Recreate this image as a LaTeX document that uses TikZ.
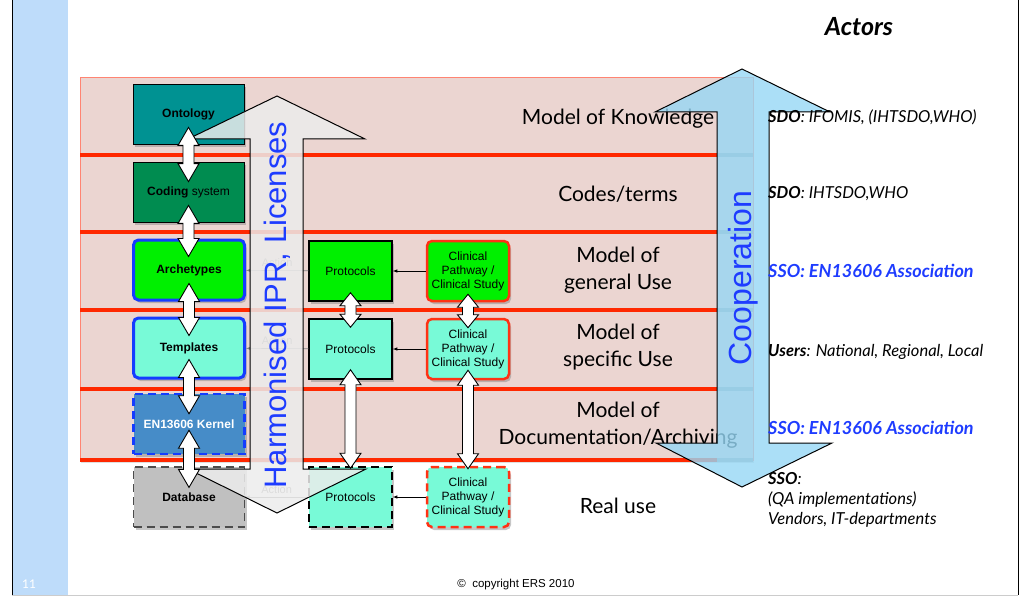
\documentclass[tikz,border=0pt]{standalone}
\usepackage{fontspec}
\setmainfont{Liberation Sans}
\newfontfamily\gillfont{Lato}
\usetikzlibrary{shapes,arrows,positioning,calc,shadows}

\newcommand{\fatlink}[3][18pt]{%
  \draw[fatarr] let \p1=(#2), \p2=(#3) in
    (\x1,\y1) -- (\x1+10.5pt,\y1-#1) -- (\x1+5.5pt,\y1-#1) -- (\x1+5.5pt,\y2+#1)
    -- (\x1+10.5pt,\y2+#1) -- (\x1,\y2) -- (\x1-10.5pt,\y2+#1) -- (\x1-5.5pt,\y2+#1)
    -- (\x1-5.5pt,\y1-#1) -- (\x1-10.5pt,\y1-#1) -- cycle;}

\begin{document}
\begin{tikzpicture}[x=1pt,y=-1pt,
    box/.style={rectangle, minimum width=111pt, minimum height=60pt, inner sep=0pt, align=center,
        font=\fontsize{12}{14}\selectfont,
        drop shadow={opacity=0.45, shadow xshift=2pt, shadow yshift=-3pt}},
    pbox/.style={box, minimum width=83pt},
    cpbox/.style={box, minimum width=82pt, draw=cpred, line width=2.5pt, rounded corners=5pt},
    longdash/.style={dash pattern=on 8pt off 5pt},
    fatarr/.style={draw=black, fill=white, line width=0.9pt, line join=miter},
    thinarr/.style={-latex, black, line width=0.6pt},
    ghostarr/.style={-latex, gray, line width=0.6pt},
    rowlab/.style={font=\gillfont\fontsize{21}{27}\selectfont, align=center},
    actor/.style={anchor=west, inner sep=0pt, align=left, font=\gillfont\itshape\fontsize{16.5}{20}\selectfont},
    ssoactor/.style={actor, text=textblue, font=\gillfont\bfseries\itshape\fontsize{18}{20}\selectfont}]

    % Definizione colori
    \definecolor{stripblue}{RGB}{190,220,250}
    \definecolor{bandpink}{RGB}{235,213,209}
    \definecolor{bandline}{RGB}{255,40,0}
    \definecolor{ontoteal}{RGB}{0,146,146}
    \definecolor{codegreen}{RGB}{0,140,80}
    \definecolor{brightgreen}{RGB}{0,240,0}
    \definecolor{aqua}{RGB}{120,250,215}
    \definecolor{kernblue}{RGB}{70,140,200}
    \definecolor{dbgray}{RGB}{192,192,192}
    \definecolor{archblue}{RGB}{20,60,255}
    \definecolor{cpred}{RGB}{255,50,20}
    \definecolor{textblue}{RGB}{30,60,255}
    \definecolor{coopblue}{RGB}{150,215,245}

    \useasboundingbox (0,0) rectangle (1024,596);

    % Cornice della slide
    \fill[stripblue] (12,0) rectangle (68,596);
    \draw[black, line width=1pt] (12,0) -- (12,596);
    \draw[black, line width=0.6pt] (1018,0) -- (1018,595);
    \draw[gray!40, line width=0.8pt] (12,595) -- (1018,595);

    % Fascia dei livelli
    \fill[bandpink, draw=cpred!60, line width=0.8pt, drop shadow={opacity=0.25, shadow xshift=1pt, shadow yshift=-3pt}]
        (80,77) rectangle (753,460);
    \foreach \y in {155,232,310,389,460} {
        \draw[bandline, line width=3.2pt] (80,\y) -- (717,\y);
        \draw[gray!70, line width=3.2pt] (717,\y) -- (753,\y);
    }

    % Colonna dei modelli
    \node[box, fill=ontoteal, draw=black, line width=0.8pt] (ont) at (188.5,114) {\textbf{Ontology}};
    \node[box, fill=codegreen, draw=black, line width=0.8pt] (cod) at (188.5,192) {\textbf{Coding} system};
    \node[box, fill=brightgreen, draw=archblue, line width=3pt, rounded corners=5pt] (arch) at (189,270) {\textbf{Archetypes}};
    \node[box, fill=aqua, draw=archblue, line width=3pt, rounded corners=5pt] (tmpl) at (189,348) {\textbf{Templates}};
    \node[box, fill=kernblue, draw=archblue, line width=2.5pt, longdash, text=white] (kern) at (189,424) {\textbf{EN13606 Kernel}};
    \node[box, fill=dbgray, draw=black!70, line width=1.2pt, longdash] (db) at (189,497) {\textbf{Database}};

    % Protocolli
    \node[pbox, fill=brightgreen, draw=black, line width=1.5pt] (p1) at (350.5,271) {Protocols};
    \node[pbox, fill=aqua, draw=black, line width=1.5pt] (p2) at (350.5,349) {Protocols};
    \node[pbox, fill=aqua, draw=black, line width=1.5pt, longdash] (p3) at (350.5,497) {Protocols};

    % Percorsi clinici
    \node[cpbox, fill=brightgreen] (cp1) at (468,271) {Clinical\\Pathway /\\Clinical Study};
    \node[cpbox, fill=aqua] (cp2) at (468,349) {Clinical\\Pathway /\\Clinical Study};
    \node[cpbox, fill=aqua, longdash] (cp3) at (468,497) {Clinical\\Pathway /\\Clinical Study};

    % Frecce sottili
    \draw[thinarr] (cp1) -- (p1);
    \draw[thinarr] (cp2) -- (p2);
    \draw[thinarr] (cp3) -- (p3);
    \draw[ghostarr] (p1) -- node[above, font=\fontsize{11}{13}\selectfont, text=gray] {Action} (arch);
    \draw[ghostarr] (p2) -- node[above, font=\fontsize{11}{13}\selectfont, text=gray] {Action} (tmpl);
    \draw[ghostarr] (p3) -- node[above, font=\fontsize{11}{13}\selectfont, text=gray] {Action} (db);

    % Freccia IPR
    \draw[black, line width=1pt, fill=gray!15, fill opacity=0.85, line join=miter]
        (277,96) -- (365,139) -- (303,139) -- (303,469) -- (366,469) -- (277,513)
        -- (188,469) -- (250,469) -- (250,139) -- (188,139) -- cycle;
    \node[rotate=90, text=textblue, font=\fontsize{31}{31}\selectfont] (ipr) at (277,305) {Harmonised IPR, Licenses};

    % Frecce doppie
    \fatlink{[yshift=17pt]ont.south}{[yshift=-20pt]cod.north}
    \fatlink{[yshift=17pt]cod.south}{[yshift=-18pt]arch.north}
    \fatlink{[yshift=18pt]arch.south}{[yshift=-19pt]tmpl.north}
    \fatlink{[yshift=20pt]tmpl.south}{[yshift=-21pt]kern.north}
    \fatlink{[yshift=25pt]kern.south}{[yshift=-21pt]db.north}
    \fatlink[13pt]{[yshift=9pt]p1.south}{[yshift=-9pt]p2.north}
    \fatlink[15pt]{[yshift=10pt]p2.south}{[yshift=-2pt]p3.north}
    \fatlink[13pt]{[yshift=8pt]cp1.south}{[yshift=-10pt]cp2.north}
    \fatlink[15pt]{[yshift=10pt]cp2.south}{[yshift=-3pt]cp3.north}

    % Etichette dei livelli
    \node[rowlab] (lknow) at (618,119) {Model of Knowledge};
    \node[rowlab] (lcode) at (618,194) {Codes/terms};
    \node[rowlab] (lgen) at (618,270) {Model of\\general Use};
    \node[rowlab] (lspec) at (618,347) {Model of\\specific Use};
    \node[rowlab] (ldoc) at (618,425) {Model of\\Documentation/Archiving};
    \node[rowlab] (lreal) at (618,506) {Real use};

    % Freccia cooperazione
    \draw[black, line width=1pt, fill=coopblue, fill opacity=0.8, line join=miter]
        (742,69) -- (830,112) -- (769,112) -- (769,443) -- (832,443) -- (742,487)
        -- (656,443) -- (717,443) -- (717,112) -- (655,112) -- cycle;
    \node[rotate=90, text=textblue, font=\fontsize{32}{32}\selectfont] (coop) at (743,278) {Cooperation};

    % Attori
    \node[font=\gillfont\bfseries\itshape\fontsize{25}{28}\selectfont] (actors) at (859,27) {Actors};
    \node[actor] (a1) at (768,117) {\textbf{SDO}: IFOMIS, (IHTSDO,WHO)};
    \node[actor] (a2) at (768,194) {\textbf{SDO}: IHTSDO,WHO};
    \node[ssoactor] (a3) at (768,271) {SSO: EN13606 Association};
    \node[actor] (a4) at (768,352) {\textbf{Users}: National, Regional, Local};
    \node[ssoactor] (a5) at (768,428) {SSO: EN13606 Association};
    \node[actor] (a6) at (768,500) {\textbf{SSO}:\\(QA implementations)\\Vendors, IT-departments};

    % Piede
    \node[font=\fontsize{11.5}{13}\selectfont] (copy) at (516,585) {\textcopyright{}\ \ copyright ERS 2010};
    \node[white, font=\gillfont\fontsize{12}{14}\selectfont] (pnum) at (29,584) {11};
\end{tikzpicture}
\end{document}
